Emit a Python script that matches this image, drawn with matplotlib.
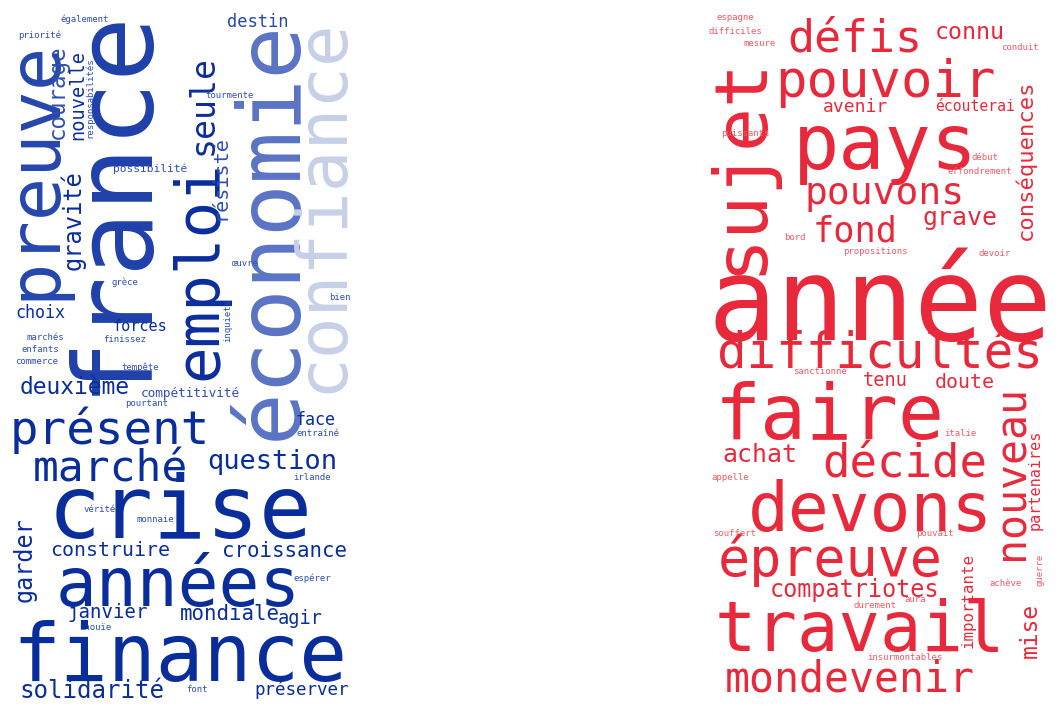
import matplotlib
matplotlib.use("Agg")
import matplotlib.pyplot as plt

# ---- data: words per cloud ----
left_words = ["france","preuve","emploi","seule","économie","confiance","courage","nouvelle",
    "gravité","responsabilités","résisté","destin","également","priorité","tourmente","possibilité",
    "œuvre","grèce","inquiets","bien","choix","forces","marchés","finissez","enfants","commerce",
    "tempête","deuxième","compétitivité","pourtant","face","entraîné","présent","marché","question",
    "crise","irlande","années","garder","vérité","monnaie","construire","croissance","espérer",
    "janvier","mondiale","agir","inouïe","finance","solidarité","font","préserver"]
right_words = ["année","sujet","pouvoir","défis","connu","pays","pouvons","fond","grave","avenir",
    "écouterai","conséquences","difficultés","tenu","doute","faire","nouveau","partenaires","achat",
    "décide","devons","épreuve","importante","mise","compatriotes","travail","mondevenir",
    "espagne","difficiles","mesure","conduit","puissants","début","effondrement","bord",
    "propositions","devoir","sanctionne","italie","appelle","souffert","pouvait","guerre",
    "achève","aura","durement","insurmontables"]

# ---- layout: (cx, cy, length_px or None for small, vertical, colour) ----
NAVY, MID, LIGHT, SM = "#0a2d9c", "#5a73c4", "#c8d0e8", "#2f4fb3"
left_layout = {
 "france":(112,200,390,1,"#1f40aa"),"preuve":(35,170,260,1,"#2546ad"),"emploi":(200,270,220,1,NAVY),
 "seule":(203,105,100,1,NAVY),"économie":(272,230,420,1,MID),"confiance":(322,205,375,1,LIGHT),
 "courage":(57,92,95,1,"#2f4fb3"),"nouvelle":(78,95,90,1,NAVY),"gravité":(73,220,100,1,NAVY),
 "responsabilités":(90,98,None,1,SM),"résisté":(220,178,85,1,"#2f4fb3"),"destin":(258,20,62,0,"#2546ad"),
 "également":(85,18,None,0,SM),"priorité":(40,34,None,0,SM),"tourmente":(230,95,None,0,SM),
 "possibilité":(150,168,75,0,SM),"œuvre":(245,262,None,0,SM),"grèce":(125,281,None,0,SM),
 "inquiets":(228,320,None,1,SM),"bien":(340,297,None,0,SM),"choix":(40,311,50,0,NAVY),
 "forces":(140,325,55,0,NAVY),"marchés":(45,337,None,0,SM),"finissez":(125,338,None,0,SM),
 "enfants":(40,349,None,0,SM),"commerce":(37,361,None,0,SM),"tempête":(140,366,None,0,SM),
 "deuxième":(75,385,110,0,NAVY),"compétitivité":(190,392,100,0,SM),"pourtant":(147,402,None,0,SM),
 "face":(315,418,40,0,NAVY),"entraîné":(318,433,None,0,SM),"présent":(110,425,200,0,NAVY),
 "marché":(110,465,155,0,NAVY),"question":(272,459,130,0,NAVY),"crise":(180,505,265,0,NAVY),
 "irlande":(312,477,None,0,SM),"années":(178,580,245,0,NAVY),"garder":(25,560,85,1,NAVY),
 "vérité":(100,508,None,0,SM),"monnaie":(155,518,None,0,SM),"construire":(110,549,120,0,NAVY),
 "croissance":(285,549,125,0,NAVY),"espérer":(312,577,None,0,SM),"janvier":(108,610,80,0,NAVY),
 "mondiale":(230,612,100,0,NAVY),"agir":(300,616,45,0,NAVY),"inouïe":(95,626,None,0,SM),
 "finance":(180,650,335,0,NAVY),"solidarité":(92,688,145,0,NAVY),"font":(197,688,None,0,SM),
 "préserver":(302,688,95,0,NAVY)}
RED, RS = "#e8293b", "#ef5a66"
right_layout = {
 "année":(880,295,345,0,RED),"sujet":(740,165,220,1,RED),"pouvoir":(885,78,220,0,RED),
 "défis":(855,35,135,0,RED),"connu":(970,30,70,0,RED),"pays":(885,140,185,0,RED),
 "pouvons":(885,190,160,0,RED),"fond":(855,228,85,0,RED),"grave":(960,215,75,0,RED),
 "avenir":(855,105,65,0,RED),"écouterai":(975,105,80,0,RED),"conséquences":(1025,160,160,1,RED),
 "difficultés":(880,348,325,0,RED),"tenu":(885,378,45,0,RED),"doute":(965,380,60,0,RED),
 "faire":(830,410,230,0,RED),"nouveau":(1012,472,175,1,RED),"partenaires":(1035,480,100,1,RED),
 "achat":(760,452,75,0,RED),"décide":(905,460,165,0,RED),"devons":(870,505,245,0,RED),
 "épreuve":(830,555,225,0,RED),"importante":(968,600,95,1,RED),"mise":(1030,630,55,1,RED),
 "compatriotes":(855,587,170,0,RED),"travail":(860,625,290,0,RED),"mondevenir":(850,675,250,0,RED),
 "espagne":(735,17,None,0,RS),"difficiles":(735,30,None,0,RS),"mesure":(760,43,None,0,RS),
 "conduit":(1020,47,None,0,RS),"puissants":(745,133,None,0,RS),"début":(985,157,None,0,RS),
 "effondrement":(980,170,None,0,RS),"bord":(795,236,None,0,RS),"propositions":(875,250,None,0,RS),
 "devoir":(995,252,None,0,RS),"sanctionne":(820,370,None,0,RS),"italie":(960,432,None,0,RS),
 "appelle":(730,477,None,0,RS),"souffert":(735,533,None,0,RS),"pouvait":(935,533,None,0,RS),
 "guerre":(1040,570,None,1,RS),"achève":(1005,582,None,0,RS),"aura":(915,598,None,0,RS),
 "durement":(875,605,None,0,RS),"insurmontables":(905,657,None,0,RS)}

fig = plt.figure(figsize=(10.6, 7.13), dpi=100)
ax = fig.add_axes([0, 0, 1, 1])
ax.set_xlim(0, 1060); ax.set_ylim(713, 0); ax.axis("off")

def draw(words, layout):
    for w in words:
        cx, cy, L, vert, col = layout[w]
        fs = 6.5 if L is None else L / (len(w) * 0.602) * 0.72
        ax.text(cx, cy, w, fontsize=fs, family="DejaVu Sans Mono", color=col,
                rotation=90 if vert else 0, ha="center",
                va="center" if vert else "center_baseline")

draw(left_words, left_layout)
draw(right_words, right_layout)
fig.savefig("out.png", dpi=100)
